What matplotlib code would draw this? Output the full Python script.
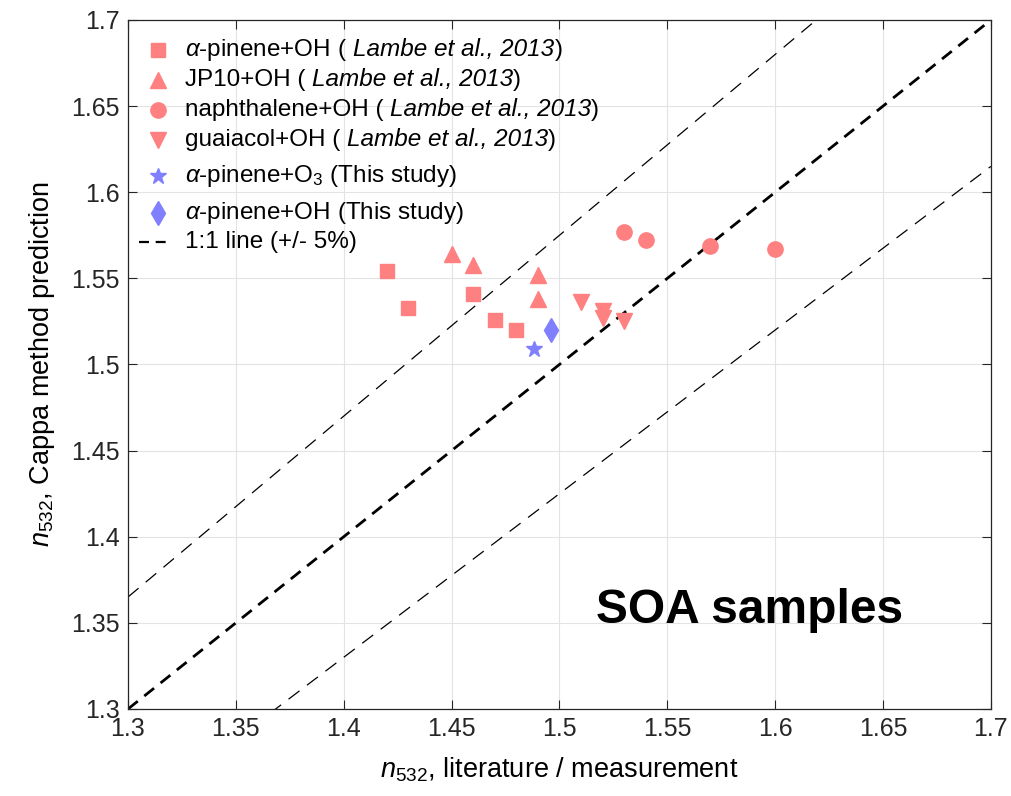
import numpy as np
import matplotlib
matplotlib.use('Agg')
import matplotlib.pyplot as plt

plt.rcParams['font.family'] = ['Liberation Sans', 'DejaVu Sans']
plt.rcParams['mathtext.fontset'] = 'custom'
plt.rcParams['mathtext.rm'] = 'Liberation Sans'
plt.rcParams['mathtext.it'] = 'Liberation Sans:italic'
plt.rcParams['mathtext.bf'] = 'Liberation Sans:bold'

# data
apinene_oh_lit_x = [1.42, 1.43, 1.46, 1.47, 1.48]
apinene_oh_lit_y = [1.554, 1.533, 1.541, 1.526, 1.520]

jp10_x = [1.45, 1.46, 1.49, 1.49]
jp10_y = [1.564, 1.558, 1.552, 1.538]

naph_x = [1.53, 1.54, 1.57, 1.60]
naph_y = [1.577, 1.572, 1.569, 1.567]

guaiacol_x = [1.51, 1.52, 1.52, 1.53]
guaiacol_y = [1.536, 1.531, 1.527, 1.525]

apinene_o3_x = [1.488]
apinene_o3_y = [1.509]

apinene_oh_x = [1.496]
apinene_oh_y = [1.520]

red = (1.0, 0.5, 0.5)
blue = (0.5, 0.5, 1.0)

fig = plt.figure(figsize=(10.11, 7.96), dpi=100)
ax = fig.add_axes([0.1266, 0.1093, 0.8535, 0.8656])

lim = np.array([1.3, 1.7])
ax.plot(lim, lim, color='k', lw=2, ls=(0, (4.5, 3)))
ax.plot(lim, lim * 1.05, color='k', lw=0.9, ls=(0, (11, 7.5)))
ax.plot(lim, lim * 0.95, color='k', lw=0.9, ls=(0, (11, 7.5)))

ax.plot(apinene_oh_lit_x, apinene_oh_lit_y, 's', color=red, ms=9.5, ls='none')
ax.plot(jp10_x, jp10_y, '^', color=red, ms=11.5, ls='none')
ax.plot(naph_x, naph_y, 'o', color=red, ms=11, ls='none')
ax.plot(guaiacol_x, guaiacol_y, 'v', color=red, ms=11.5, ls='none')
ax.plot(apinene_o3_x, apinene_o3_y, '*', color=blue, ms=12, ls='none')
ax.plot(apinene_oh_x, apinene_oh_y, 'd', color=blue, ms=12, ls='none')

ax.set_xlim(1.3, 1.7)
ax.set_ylim(1.3, 1.7)
ticks = [1.3, 1.35, 1.4, 1.45, 1.5, 1.55, 1.6, 1.65, 1.7]
tick_labels = ['1.3', '1.35', '1.4', '1.45', '1.5', '1.55', '1.6', '1.65', '1.7']
ax.set_xticks(ticks)
ax.set_xticklabels(tick_labels)
ax.set_yticks(ticks)
ax.set_yticklabels(tick_labels)
ax.tick_params(direction='in', top=True, right=True, labelsize=18, length=6.5,
               width=0.8, colors='#262626', labelcolor='#262626', pad=6)
ax.grid(True, color='#e3e3e3', lw=0.8)
ax.set_axisbelow(True)
for s in ax.spines.values():
    s.set_linewidth(0.9)
    s.set_color('#262626')

ax.set_xlabel(r'$n_{532}$, literature / measurement', fontsize=19.5, labelpad=10)
ax.set_ylabel(r'$n_{532}$, Cappa method prediction', fontsize=19.5, labelpad=10)

ax.text(0.7207, 0.1248, 'SOA samples', transform=ax.transAxes, fontsize=34.5,
        fontweight='bold', ha='center', va='baseline')

# legend, drawn by hand so the citation can be in italics
leg_rows = [
    ('s', red, 9.5, r'$\alpha$-pinene+OH (', True),
    ('^', red, 11.5, 'JP10+OH (', True),
    ('o', red, 11, 'naphthalene+OH (', True),
    ('v', red, 11.5, 'guaiacol+OH (', True),
    ('*', blue, 12, r'$\alpha$-pinene+O$_3$ (This study)', False),
    ('d', blue, 12, r'$\alpha$-pinene+OH (This study)', False),
    ('line', 'k', 0, '1:1 line (+/- 5%)', False),
]
row_px = [50, 80, 110, 140, 176, 213, 242]
ax_left, ax_top, ax_w, ax_h = 128, 20, 863, 689
leg_fs = 17.5
space_px = 6.5

fig.canvas.draw()
renderer = fig.canvas.get_renderer()
inv = ax.transAxes.inverted()

for (mk, col, ms, label, cite), py in zip(leg_rows, row_px):
    yf = 1 - (py - ax_top) / ax_h
    xm = (158 - ax_left) / ax_w
    if mk == 'line':
        ax.plot([(139 - ax_left) / ax_w, (170 - ax_left) / ax_w], [yf, yf],
                color='k', lw=1.6, ls=(0, (4.5, 3)), transform=ax.transAxes,
                clip_on=False)
    else:
        ax.plot([xm], [yf], marker=mk, color=col, ms=ms, ls='none',
                transform=ax.transAxes, clip_on=False)
    xt = (185 - ax_left) / ax_w
    yb = 1 - (py + 6 - ax_top) / ax_h
    t = ax.text(xt, yb, label, transform=ax.transAxes, fontsize=leg_fs,
                va='baseline', ha='left')
    if cite:
        x1 = t.get_window_extent(renderer).x1 + space_px
        x1 = inv.transform((x1, 0))[0]
        t2 = ax.text(x1, yb, 'Lambe et al., 2013', transform=ax.transAxes,
                     fontsize=leg_fs, style='italic', va='baseline', ha='left')
        x2 = inv.transform((t2.get_window_extent(renderer).x1, 0))[0]
        ax.text(x2, yb, ')', transform=ax.transAxes, fontsize=leg_fs,
                va='baseline', ha='left')

fig.savefig('out.png', dpi=100)
